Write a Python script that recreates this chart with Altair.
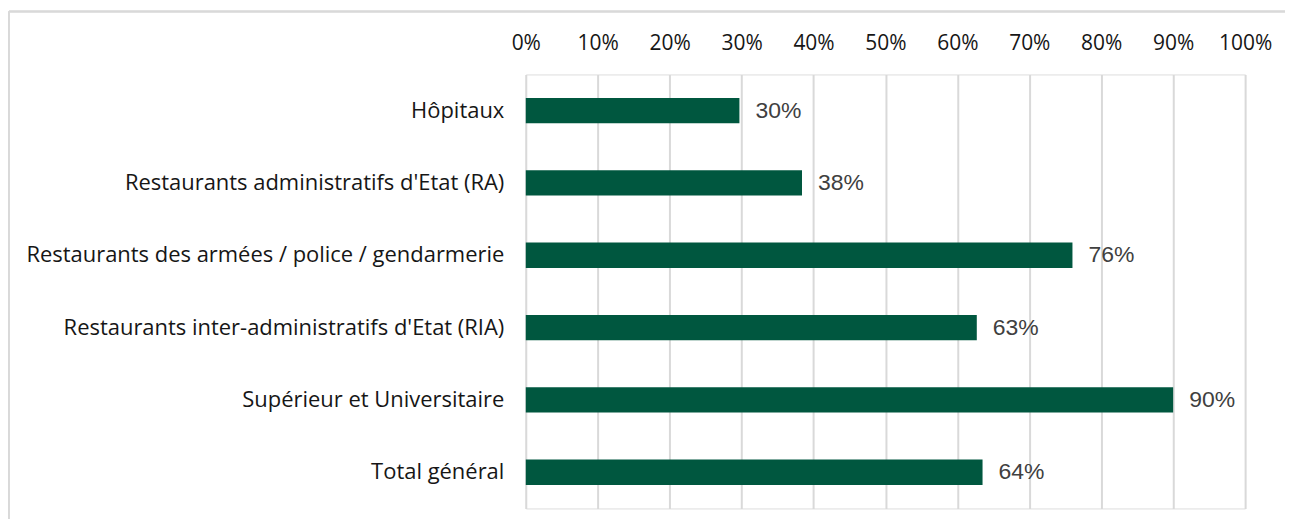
import altair as alt
import pandas as pd

categories = [
    "Hôpitaux",
    "Restaurants administratifs d'Etat (RA)",
    "Restaurants des armées / police / gendarmerie",
    "Restaurants inter-administratifs d'Etat (RIA)",
    "Supérieur et Universitaire",
    "Total général",
]
values = [0.297, 0.384, 0.76, 0.627, 0.90, 0.635]
labels = ["30%", "38%", "76%", "63%", "90%", "64%"]

df = pd.DataFrame({"cat": categories, "val": values, "lab": labels})

GREEN = "#00573F"
GRID = "#d9d9d9"
FONT = "Open Sans"

y_enc = alt.Y(
    "cat:N",
    sort=categories,
    title=None,
    scale=alt.Scale(paddingInner=0.65, paddingOuter=0.325),
    axis=alt.Axis(
        labelFont=FONT,
        labelFontSize=22,
        labelColor="#161616",
        labelPadding=22,
        ticks=False,
        domain=False,
        grid=False,
        labelLimit=600,
    ),
)

x_enc = alt.X(
    "val:Q",
    title=None,
    scale=alt.Scale(domain=[0, 1], nice=False),
    axis=alt.Axis(
        orient="top",
        format=".0%",
        values=[i / 10 for i in range(11)],
        labelFont=FONT,
        labelFontSize=21,
        labelColor="#161616",
        labelPadding=21,
        labelFlush=False,
        labelOverlap=False,
        ticks=False,
        domain=False,
        grid=True,
        gridColor=GRID,
        gridWidth=2,
    ),
)

bars = alt.Chart(df).mark_bar(color=GREEN).encode(x=x_enc, y=y_enc)

text = alt.Chart(df).mark_text(
    align="left", baseline="middle", dx=16,
    font="Liberation Sans", fontSize=23, color="#404040",
).encode(x="val:Q", y=alt.Y("cat:N", sort=categories), text="lab:N")

border_top = alt.Chart(df).mark_rule(color=GRID, strokeWidth=1.5).encode(
    x=alt.value(-518), x2=alt.value(800), y=alt.value(-63)
)
border_left = alt.Chart(df).mark_rule(color=GRID, strokeWidth=1.5).encode(
    x=alt.value(-518), y=alt.value(-63), y2=alt.value(500)
)

chart = (
    alt.layer(bars, text, border_top, border_left)
    .properties(
        width=721,
        height=435,
        autosize=alt.AutoSizeParams(type="none"),
        padding={"left": 519, "top": 66, "right": 40, "bottom": 10},
    )
    .configure_view(stroke=None)
    .configure(background="white")
)

chart.save("out.html", embed_options={"renderer": "svg", "actions": False})
